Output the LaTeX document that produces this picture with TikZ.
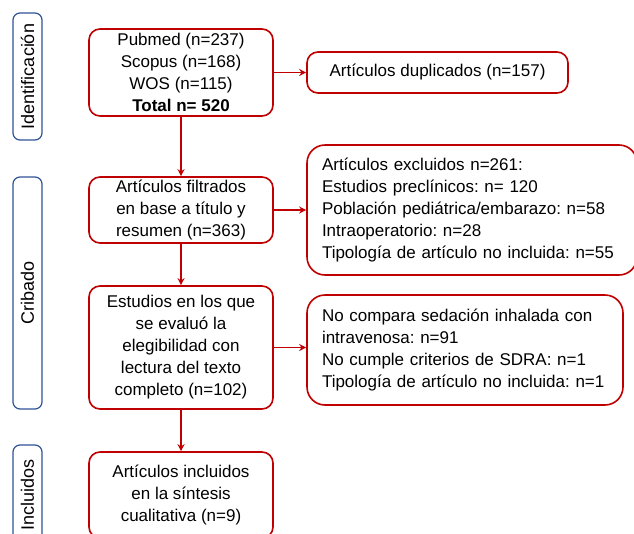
\documentclass[tikz,border=0pt]{standalone}
\usepackage{fontspec}
\setmainfont{Liberation Sans}
\frenchspacing
\usetikzlibrary{positioning, arrows.meta}
\definecolor{BoxRed}{RGB}{192,0,0}
\definecolor{StageBlue}{RGB}{47,84,150}
\tikzstyle{arrow} = [BoxRed, line width=1.6pt, -{Stealth[length=7pt,width=7pt]}]
\tikzstyle{stepbox} = [draw=BoxRed, line width=1.6pt, rounded corners=11pt, align=center, inner sep=0pt, font=\fontsize{17}{22}\selectfont]
\tikzstyle{notebox} = [stepbox, align=left, rounded corners=18pt, inner xsep=15pt]
\tikzstyle{stage} = [draw=StageBlue, line width=1.2pt, rounded corners=7pt, inner sep=0pt, minimum height=29pt, rotate=90, font=\fontsize{18}{22}\selectfont]

\begin{document}
\begin{tikzpicture}[x=1pt, y=-1pt]
  \clip (0,0) rectangle (634,533);
  \fill[white] (0,0) rectangle (634,533);

  % Stages
  \node[stage, minimum width=127pt] (sIdent) at (27.5,76.5) {Identificación};
  \node[stage, minimum width=232pt] (sCrib) at (27.5,293) {Cribado};
  \node[stage, minimum width=100pt] (sIncl) at (27.5,495) {Incluidos};

  % Main flow
  \node[stepbox, minimum width=184pt, minimum height=87pt] (ident) at (181,72.5)
    {Pubmed (n=237)\\Scopus (n=168)\\WOS (n=115)\\\textbf{Total n= 520}};
  \node[stepbox, minimum width=184pt, minimum height=66pt] (filt) at (181,210)
    {Artículos filtrados\\en base a título y\\resumen (n=363)};
  \node[stepbox, minimum width=184pt, minimum height=123pt] (elig) at (181,347.5)
    {Estudios en los que\\se evaluó la\\elegibilidad con\\lectura del texto\\completo (n=102)};
  \node[stepbox, minimum width=184pt, minimum height=86pt] (incl) at (181,495)
    {Artículos incluidos\\en la síntesis\\cualitativa (n=9)};

  % Exclusions
  \node[stepbox, minimum width=261pt, minimum height=41pt] (dup) at (437.5,72.5)
    {Artículos duplicados (n=157)};
  \node[notebox, text width=300pt, minimum height=130pt] (excl) at (472,210)
    {Artículos excluidos n=261:\\Estudios preclínicos: n= 120\\Población pediátrica/embarazo: n=58\\Intraoperatorio: n=28\\Tipología de artículo no incluida: n=55};
  \node[notebox, text width=286pt, minimum height=110pt] (noel) at (465,350)
    {No compara sedación inhalada con\\intravenosa: n=91\\No cumple criterios de SDRA: n=1\\Tipología de artículo no incluida: n=1};

  % Arrows
  \draw[arrow] (ident) -- (filt);
  \draw[arrow] (filt) -- (elig);
  \draw[arrow] (elig) -- (incl);
  \draw[arrow] (ident.east) -- (dup.west);
  \draw[arrow] (filt.east) -- (filt.east -| excl.west);
  \draw[arrow] (elig.east) -- (elig.east -| noel.west);
\end{tikzpicture}
\end{document}
